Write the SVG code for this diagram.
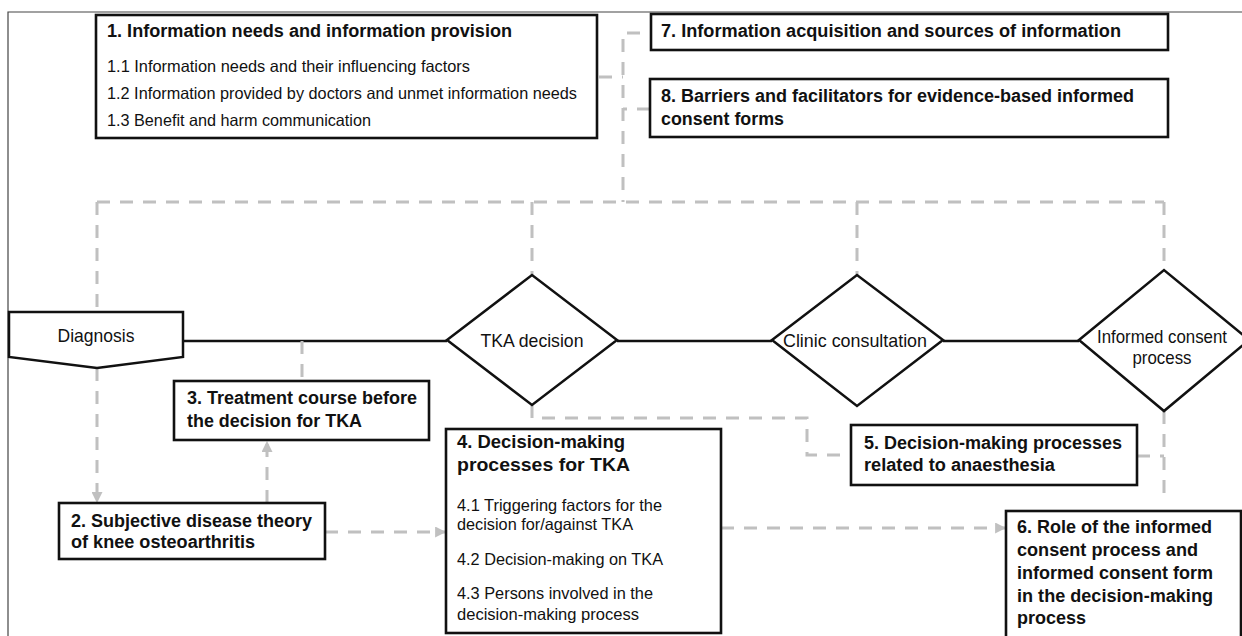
<svg xmlns="http://www.w3.org/2000/svg" width="1242" height="636" viewBox="0 0 1242 636">
<style>
.box{fill:#fff;stroke:#111;stroke-width:2.6}
.shape{fill:#fff;stroke:#111;stroke-width:2.5;stroke-linejoin:miter}
.solid{fill:none;stroke:#111;stroke-width:2.5}
.dash{fill:none;stroke:#c0c0c0;stroke-width:3;stroke-dasharray:13 10}
.t{font-family:"Liberation Sans",Arial,sans-serif;fill:#111}
.b{font-weight:bold;font-size:18px}
.r{font-size:16.5px}
.d{font-size:18.5px;text-anchor:middle}
</style>
<defs>
<marker id="ah" viewBox="0 0 10 10" refX="9" refY="5" markerWidth="11" markerHeight="11" markerUnits="userSpaceOnUse" orient="auto">
<path d="M0,0 L10,5 L0,10 z" fill="#c0c0c0"/>
</marker>
</defs>
<rect width="1242" height="636" fill="#fff"/>
<path d="M8,636 V12 H1242" fill="none" stroke="#444" stroke-width="1.2"/>

<g id="connectors">
<path class="solid" d="M183,341 H447"/>
<path class="solid" d="M617,341 H772"/>
<path class="solid" d="M943,341 H1079"/>
<path class="dash" d="M599,77 H623"/>
<path class="dash" d="M640,33 H623 V202"/>
<path class="dash" d="M650,109 H623"/>
<path class="dash" d="M97,202 H1164"/>
<path class="dash" d="M97,202 V312"/>
<path class="dash" d="M532,202 V275"/>
<path class="dash" d="M857,202 V275"/>
<path class="dash" d="M1164,202 V270"/>
<path class="dash" d="M97,368 V502" marker-end="url(#ah)"/>
<path class="dash" d="M302,341 V381"/>
<path class="dash" d="M267,503 V442" marker-end="url(#ah)"/>
<path class="dash" d="M325,532 H445" marker-end="url(#ah)"/>
<path class="dash" d="M532,405 V418 H807 V455 H851"/>
<path class="dash" d="M1137,456 H1164"/>
<path class="dash" d="M1164,411 V498"/>
<path class="dash" d="M721,528 H1005" marker-end="url(#ah)"/>
</g>

<g id="node-1">
<rect class="box" x="96" y="15" width="501" height="123"/>
<text class="t b" x="107" y="37" textLength="405" lengthAdjust="spacingAndGlyphs">1. Information needs and information provision</text>
<text class="t r" x="107" y="72" textLength="363" lengthAdjust="spacingAndGlyphs">1.1 Information needs and their influencing factors</text>
<text class="t r" x="107" y="99" textLength="470" lengthAdjust="spacingAndGlyphs">1.2 Information provided by doctors and unmet information needs</text>
<text class="t r" x="107" y="126" textLength="264" lengthAdjust="spacingAndGlyphs">1.3 Benefit and harm communication</text>
</g>

<g id="node-7">
<rect class="box" x="651" y="14" width="517" height="36"/>
<text class="t b" x="661" y="37" textLength="460" lengthAdjust="spacingAndGlyphs">7. Information acquisition and sources of information</text>
</g>

<g id="node-8">
<rect class="box" x="650" y="79" width="518" height="58"/>
<text class="t b" x="661" y="102" textLength="473" lengthAdjust="spacingAndGlyphs">8. Barriers and facilitators for evidence-based informed</text>
<text class="t b" x="661" y="125" textLength="123" lengthAdjust="spacingAndGlyphs">consent forms</text>
</g>

<g id="diagnosis">
<path class="shape" d="M9,312 H183 V357 L97,368 L9,357 Z"/>
<text class="t d" x="96" y="342" textLength="77" lengthAdjust="spacingAndGlyphs">Diagnosis</text>
</g>

<g id="tka-decision">
<path class="shape" d="M447,340 L532,275 L617,340 L532,405 Z"/>
<text class="t d" x="532" y="347" textLength="103" lengthAdjust="spacingAndGlyphs">TKA decision</text>
</g>

<g id="clinic-consultation">
<path class="shape" d="M772,340 L857,275 L943,340 L857,406 Z"/>
<text class="t d" x="855" y="347" textLength="144" lengthAdjust="spacingAndGlyphs">Clinic consultation</text>
</g>

<g id="informed-consent-process">
<path class="shape" d="M1079,340 L1164,270 L1249,340 L1164,411 Z"/>
<text class="t d" x="1162" y="343" textLength="130" lengthAdjust="spacingAndGlyphs">Informed consent</text>
<text class="t d" x="1162" y="364" textLength="59" lengthAdjust="spacingAndGlyphs">process</text>
</g>

<g id="node-3">
<rect class="box" x="174" y="381" width="255" height="59"/>
<text class="t b" x="187" y="404" textLength="230" lengthAdjust="spacingAndGlyphs">3. Treatment course before</text>
<text class="t b" x="187" y="427" textLength="175" lengthAdjust="spacingAndGlyphs">the decision for TKA</text>
</g>

<g id="node-2">
<rect class="box" x="59" y="503" width="266" height="56"/>
<text class="t b" x="71" y="527" textLength="241" lengthAdjust="spacingAndGlyphs">2. Subjective disease theory</text>
<text class="t b" x="71" y="548" textLength="184" lengthAdjust="spacingAndGlyphs">of knee osteoarthritis</text>
</g>

<g id="node-4">
<rect class="box" x="446" y="429" width="275" height="204"/>
<text class="t b" x="457" y="448" textLength="168" lengthAdjust="spacingAndGlyphs">4. Decision-making</text>
<text class="t b" x="457" y="471" textLength="173" lengthAdjust="spacingAndGlyphs">processes for TKA</text>
<text class="t r" x="457" y="511" textLength="205" lengthAdjust="spacingAndGlyphs">4.1 Triggering  factors for the</text>
<text class="t r" x="457" y="530" textLength="176" lengthAdjust="spacingAndGlyphs">decision for/against TKA</text>
<text class="t r" x="457" y="565" textLength="206" lengthAdjust="spacingAndGlyphs">4.2 Decision-making on TKA</text>
<text class="t r" x="457" y="599" textLength="196" lengthAdjust="spacingAndGlyphs">4.3 Persons involved in the</text>
<text class="t r" x="457" y="620" textLength="182" lengthAdjust="spacingAndGlyphs">decision-making process</text>
</g>

<g id="node-5">
<rect class="box" x="851" y="425" width="286" height="60"/>
<text class="t b" x="864" y="449" textLength="258" lengthAdjust="spacingAndGlyphs">5. Decision-making processes</text>
<text class="t b" x="864" y="471" textLength="191" lengthAdjust="spacingAndGlyphs">related to anaesthesia</text>
</g>

<g id="node-6">
<rect class="box" x="1006" y="511" width="235" height="140"/>
<text class="t b" x="1017" y="533" textLength="195" lengthAdjust="spacingAndGlyphs">6. Role of the informed</text>
<text class="t b" x="1017" y="556" textLength="181" lengthAdjust="spacingAndGlyphs">consent process and</text>
<text class="t b" x="1017" y="579" textLength="196" lengthAdjust="spacingAndGlyphs">informed consent form</text>
<text class="t b" x="1017" y="602" textLength="196" lengthAdjust="spacingAndGlyphs">in the decision-making</text>
<text class="t b" x="1017" y="624" textLength="69" lengthAdjust="spacingAndGlyphs">process</text>
</g>
</svg>
